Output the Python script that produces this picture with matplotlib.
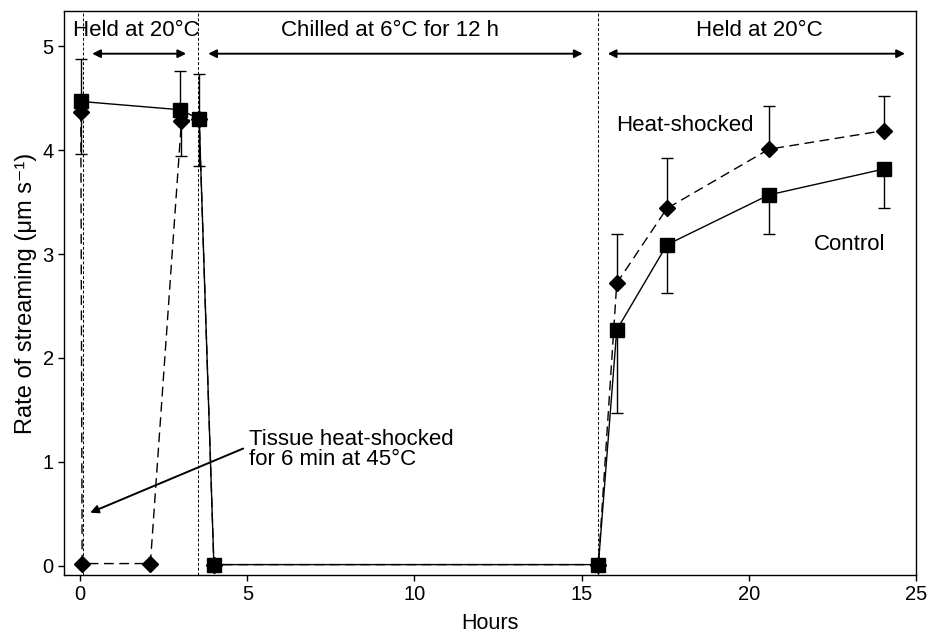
import matplotlib
matplotlib.use("Agg")
import numpy as np
import matplotlib.pyplot as plt

plt.rcParams['font.family'] = ['Liberation Sans', 'DejaVu Sans']

# Control series (squares, solid line)
ctrl_x = [0.02, 3.0, 3.56, 4.0, 15.5, 16.05, 17.55, 20.6, 24.05]
ctrl_y = [4.47, 4.39, 4.30, 0.01, 0.01, 2.27, 3.09, 3.57, 3.82]
ctrl_up = [0.41, 0.37, 0.43, 0, 0, 0, 0, 0, 0]
ctrl_lo = [0, 0, 0, 0, 0, 0.80, 0.46, 0.38, 0.38]

# Heat-shocked series (diamonds, dashed line)
hs_x = [0.02, 0.06, 2.1, 3.03, 3.56, 4.0, 15.5, 16.05, 17.55, 20.6, 24.05]
hs_y = [4.37, 0.02, 0.02, 4.28, 4.30, 0.01, 0.01, 2.72, 3.44, 4.01, 4.19]
hs_up = [0, 0, 0, 0, 0, 0, 0, 0.47, 0.49, 0.42, 0.33]
hs_lo = [0.41, 0, 0, 0.34, 0.45, 0, 0, 0, 0, 0, 0]

# phase boundaries (hours)
phase_lines = [0.1, 3.53, 15.48]

fig = plt.figure(figsize=(9.29, 6.35), dpi=100)
ax = fig.add_axes([0.069, 0.0945, 0.917, 0.888])

for xv in phase_lines:
    ax.axvline(xv, color='black', lw=0.7, linestyle=(0, (3, 2)), zorder=1)

ax.errorbar(ctrl_x, ctrl_y, yerr=[ctrl_lo, ctrl_up], fmt='none', ecolor='black',
            elinewidth=1.0, capsize=4, capthick=1.0, zorder=2)
ax.errorbar(hs_x, hs_y, yerr=[hs_lo, hs_up], fmt='none', ecolor='black',
            elinewidth=1.0, capsize=4, capthick=1.0, zorder=2)

ax.plot(hs_x, hs_y, color='black', lw=1.0, linestyle=(0, (7, 4)),
        marker='D', markersize=8.5, zorder=3)
ax.plot(ctrl_x, ctrl_y, color='black', lw=1.0, linestyle='-',
        marker='s', markersize=9.5, zorder=4)

# phase arrows and labels
arrow_kw = dict(arrowstyle='<|-|>', color='black', lw=1.4, mutation_scale=12,
                shrinkA=0, shrinkB=0)
ax.annotate('', xy=(3.17, 4.93), xytext=(0.36, 4.93), arrowprops=arrow_kw)
ax.annotate('', xy=(15.03, 4.93), xytext=(3.83, 4.93), arrowprops=arrow_kw)
ax.annotate('', xy=(24.67, 4.93), xytext=(15.78, 4.93), arrowprops=arrow_kw)

fs = 16
ax.text(1.68, 5.15, 'Held at 20°C', ha='center', va='center', fontsize=fs)
ax.text(9.28, 5.15, 'Chilled at 6°C for 12 h', ha='center', va='center', fontsize=fs)
ax.text(20.3, 5.15, 'Held at 20°C', ha='center', va='center', fontsize=fs)

ax.text(18.1, 4.24, 'Heat-shocked', ha='center', va='center', fontsize=fs)
ax.text(23.0, 3.09, 'Control', ha='center', va='center', fontsize=fs)

ax.annotate('Tissue heat-shocked\nfor 6 min at 45°C', xy=(0.3, 0.51), xytext=(5.06, 1.12),
            ha='left', va='center', fontsize=fs, linespacing=0.9,
            arrowprops=dict(arrowstyle='-|>', color='black', lw=1.4,
                            mutation_scale=12, shrinkA=0, shrinkB=0,
                            relpos=(-0.03, 0.52)))

ax.set_xlim(-0.48, 25)
ax.set_ylim(-0.09, 5.34)
ax.set_xticks([0, 5, 10, 15, 20, 25])
ax.set_yticks([0, 1, 2, 3, 4, 5])
ax.tick_params(direction='out', length=4, width=1, labelsize=14.5, top=False, right=False)
for s in ax.spines.values():
    s.set_linewidth(1.0)

ax.set_xlabel('Hours', fontsize=15.5, labelpad=6)
ax.set_ylabel('Rate of streaming (μm s⁻¹)', fontsize=17, labelpad=4)

fig.savefig('out.png', dpi=100)
